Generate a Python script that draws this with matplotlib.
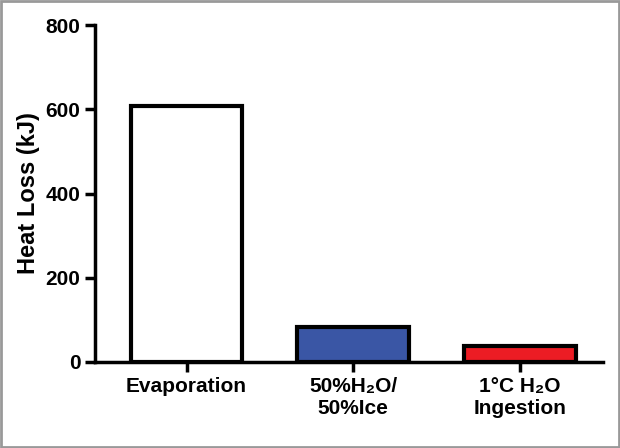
import matplotlib
matplotlib.use("Agg")
import matplotlib.pyplot as plt
from matplotlib.patches import Rectangle

categories = ["Evaporation", "50%H\u2082O/\n50%Ice", "1°C H\u2082O\nIngestion"]
values = [607, 82, 39]
colors = ["white", "#3a56a5", "#ec1c24"]
yticks = [0, 200, 400, 600, 800]

plt.rcParams["font.family"] = "Liberation Sans"
fig = plt.figure(figsize=(6.2, 4.48), dpi=100)
ax = fig.add_axes([0.153, 0.192, 0.82, 0.752])
x = range(len(categories))
ax.bar(x, values, width=0.67, color=colors, edgecolor="black", linewidth=3, zorder=3)
ax.set_xlim(-0.55, 2.5)
ax.set_ylim(0, 800)
ax.set_yticks(yticks)
ax.set_xticks(list(x))
ax.set_xticklabels(categories, fontsize=15, fontweight="bold")
ax.tick_params(axis="y", labelsize=15, width=2.5, length=7)
ax.tick_params(axis="x", width=2.5, length=7)
for t in ax.get_yticklabels():
    t.set_fontweight("bold")
ax.set_ylabel("Heat Loss (kJ)", fontsize=17, fontweight="bold")
for s in ["top", "right"]:
    ax.spines[s].set_visible(False)
for s in ["left", "bottom"]:
    ax.spines[s].set_linewidth(2.5)
fig.patches.append(Rectangle((0.002, 0.002), 0.996, 0.996, transform=fig.transFigure,
                             fill=False, edgecolor="#999999", linewidth=2))
fig.savefig("out.png", dpi=100)
